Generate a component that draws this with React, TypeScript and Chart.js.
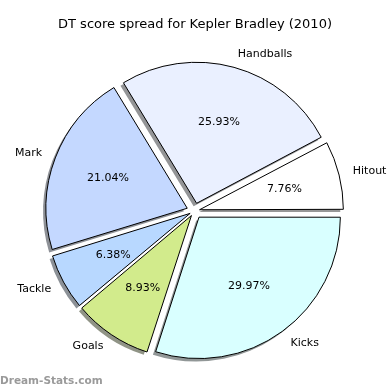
import React, { useEffect, useRef } from "react";
import { Chart, registerables } from "chart.js";

Chart.register(...registerables);

// Data in clockwise order starting at 3 o'clock (matplotlib counter-clockwise order reversed)
const categories = ["Kicks", "Goals", "Tackle", "Mark", "Handballs", "Hitout"];
const percentages = [29.97, 8.93, 6.38, 21.04, 25.93, 7.76];
const sliceColors = ["#d9ffff", "#d2eb8c", "#b8d8ff", "#c4d8ff", "#eaf0ff", "#ffffff"];
const titleText = "DT score spread for Kepler Bradley (2010)";
const watermark = "Dream-Stats.com";

const FONT = "'DejaVu Sans', sans-serif";
const EXPLODE = 8; // px each slice is pushed out

// Chart.js translates an arc by offset/4 * (2 - sin(circumference)); invert that.
const total = percentages.reduce((a, b) => a + b, 0);
const chartOffsets = percentages.map((p) => {
  const circ = (p / total) * Math.PI * 2;
  return (4 * EXPLODE) / (2 - Math.sin(Math.min(Math.PI, circ)));
});

function shadowColor(hex: string): string {
  const h = hex.replace("#", "");
  const r = parseInt(h.slice(0, 2), 16);
  const g = parseInt(h.slice(2, 4), 16);
  const b = parseInt(h.slice(4, 6), 16);
  const f = (c: number) => Math.round(0.5 * 0.3 * c + 0.5 * 255 - 15);
  return `rgb(${f(r)},${f(g)},${f(b)})`;
}

const piePlugin = {
  id: "piePlugin",
  beforeDatasetsDraw(chart: any) {
    const ctx = chart.ctx;
    const meta = chart.getDatasetMeta(0);
    ctx.save();
    meta.data.forEach((el: any, i: number) => {
      const { x, y, startAngle, endAngle, outerRadius } = el.getProps(
        ["x", "y", "startAngle", "endAngle", "outerRadius"],
        true
      );
      const mid = (startAngle + endAngle) / 2;
      const cx = x + EXPLODE * Math.cos(mid) - 3;
      const cy = y + EXPLODE * Math.sin(mid) + 3;
      ctx.beginPath();
      ctx.moveTo(cx, cy);
      ctx.arc(cx, cy, outerRadius, startAngle, endAngle);
      ctx.closePath();
      ctx.fillStyle = shadowColor(sliceColors[i]);
      ctx.fill();
    });
    ctx.restore();
  },
  afterDatasetsDraw(chart: any) {
    const ctx = chart.ctx;
    const meta = chart.getDatasetMeta(0);
    ctx.save();
    ctx.fillStyle = "#000";
    ctx.font = `11px ${FONT}`;
    ctx.textBaseline = "middle";
    meta.data.forEach((el: any, i: number) => {
      const { x, y, startAngle, endAngle, outerRadius } = el.getProps(
        ["x", "y", "startAngle", "endAngle", "outerRadius"],
        true
      );
      const mid = (startAngle + endAngle) / 2;
      const c = Math.cos(mid);
      const s = Math.sin(mid);
      const lr = EXPLODE + 1.1 * outerRadius;
      ctx.textAlign = c > 0 ? "left" : "right";
      ctx.fillText(categories[i], x + lr * c, y + lr * s);
      const pr = EXPLODE + 0.6 * outerRadius;
      ctx.textAlign = "center";
      ctx.fillText(percentages[i].toFixed(2) + "%", x + pr * c, y + pr * s);
    });
    // title
    ctx.font = `13px ${FONT}`;
    ctx.textAlign = "center";
    ctx.fillText(titleText, 195, 25);
    // watermark
    ctx.font = `bold 10.5px ${FONT}`;
    ctx.fillStyle = "#9a9a9a";
    ctx.textAlign = "left";
    ctx.textBaseline = "alphabetic";
    ctx.fillText(watermark, 0, 384);
    ctx.restore();
  },
};

export default function App() {
  const ref = useRef<HTMLCanvasElement>(null);
  useEffect(() => {
    if (!ref.current) return;
    const chart = new Chart(ref.current, {
      type: "pie",
      data: {
        labels: categories,
        datasets: [
          {
            data: percentages,
            backgroundColor: sliceColors,
            borderColor: "#000",
            borderWidth: 1,
            offset: chartOffsets,
          },
        ],
      },
      options: {
        responsive: false,
        animation: false,
        rotation: 90,
        radius: 141,
        layout: { padding: { left: 0, right: 1, top: 40, bottom: 8 } },
        plugins: {
          legend: { display: false },
          title: { display: false },
          tooltip: { enabled: false },
        },
      },
      plugins: [piePlugin],
    });
    return () => chart.destroy();
  }, []);
  return (
    <div style={{ position: "fixed", left: 0, top: 0, width: 390, height: 390, background: "#fff" }}>
      <canvas ref={ref} width={390} height={390} />
    </div>
  );
}
